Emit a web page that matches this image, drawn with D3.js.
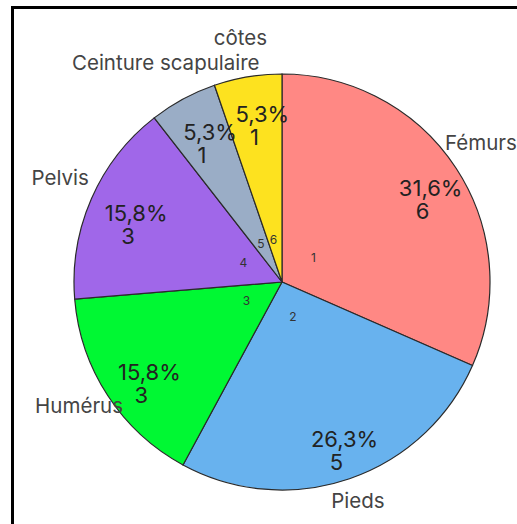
<!DOCTYPE html>
<html>
<head>
<meta charset="utf-8">
<script src="https://cdn.jsdelivr.net/npm/d3@7"></script>
<style>
  body { margin: 0; background: #fff; }
  svg { display: block; font-family: Inter, Roboto, "Noto Sans", sans-serif; }
</style>
</head>
<body>
<svg id="pie" width="517" height="524"></svg>
<script>
// data
var categories = ["Fémurs", "Pieds", "Humérus", "Pelvis", "Ceinture scapulaire", "côtes"];
var counts = [6, 5, 3, 3, 1, 1];
var colors = ["#ff8884", "#68b2ee", "#00f833", "#a067e9", "#9aadc6", "#fde21f"];

var pie_svg = d3.select("#pie"),
    cx = 282, cy = 282, radius = 208;

// frame (only top/left visible in the window)
pie_svg.append("rect")
    .attr("x", 12.5).attr("y", 7.5)
    .attr("width", 600).attr("height", 600)
    .attr("fill", "none")
    .attr("stroke", "#000")
    .attr("stroke-width", 3);

var total = d3.sum(counts);
var rows = categories.map((c, i) => ({name: c, value: counts[i], idx: i + 1}));

var pie = d3.pie().sort(null).value(d => d.value);
var arcs = pie(rows);

var arc = d3.arc().innerRadius(0).outerRadius(radius);
var idxArc = d3.arc().innerRadius(40).outerRadius(40);
var pctArc = d3.arc().innerRadius(168).outerRadius(168);
var outArc = d3.arc().innerRadius(240).outerRadius(240);

var fmt = d3.format(".1f");

var g = pie_svg.append("g").attr("transform", "translate(" + cx + "," + cy + ")");

g.selectAll("path.slice")
    .data(arcs)
    .enter().append("path")
    .attr("class", "slice")
    .attr("d", arc)
    .attr("fill", (d, i) => colors[i])
    .attr("stroke", "#2a2a2a")
    .attr("stroke-width", 1.2);

// small index numbers near centre
g.selectAll("text.idx")
    .data(arcs)
    .enter().append("text")
    .attr("class", "idx")
    .attr("transform", d => {
        var c = idxArc.centroid(d);
        return "translate(" + (c[0] - 2) + "," + (c[1] - 3) + ")";
    })
    .attr("text-anchor", "middle")
    .attr("dominant-baseline", "central")
    .attr("font-size", 12)
    .attr("fill", "#333")
    .text(d => d.data.idx);

// percentage + count
var pct = g.selectAll("text.pct")
    .data(arcs)
    .enter().append("text")
    .attr("class", "pct")
    .attr("transform", d => {
        var c = pctArc.centroid(d);
        return "translate(" + (c[0] + 8) + "," + (c[1] + 10) + ")";
    })
    .attr("text-anchor", "middle")
    .attr("font-size", 22)
    .attr("fill", "#222");

pct.append("tspan")
    .attr("x", 0).attr("y", -4)
    .text(d => fmt(d.data.value / total * 100).replace(".", ",") + "%");
pct.append("tspan")
    .attr("x", -8).attr("y", 19)
    .text(d => d.data.value);

// outer category labels
g.selectAll("text.lbl")
    .data(arcs)
    .enter().append("text")
    .attr("class", "lbl")
    .attr("transform", d => {
        var c = outArc.centroid(d);
        return "translate(" + (c[0] - 2) + "," + (c[1] - 8) + ")";
    })
    .attr("text-anchor", "middle")
    .attr("dominant-baseline", "central")
    .attr("font-size", 20.5)
    .attr("fill", "#444")
    .text(d => d.data.name);
</script>
</body>
</html>
